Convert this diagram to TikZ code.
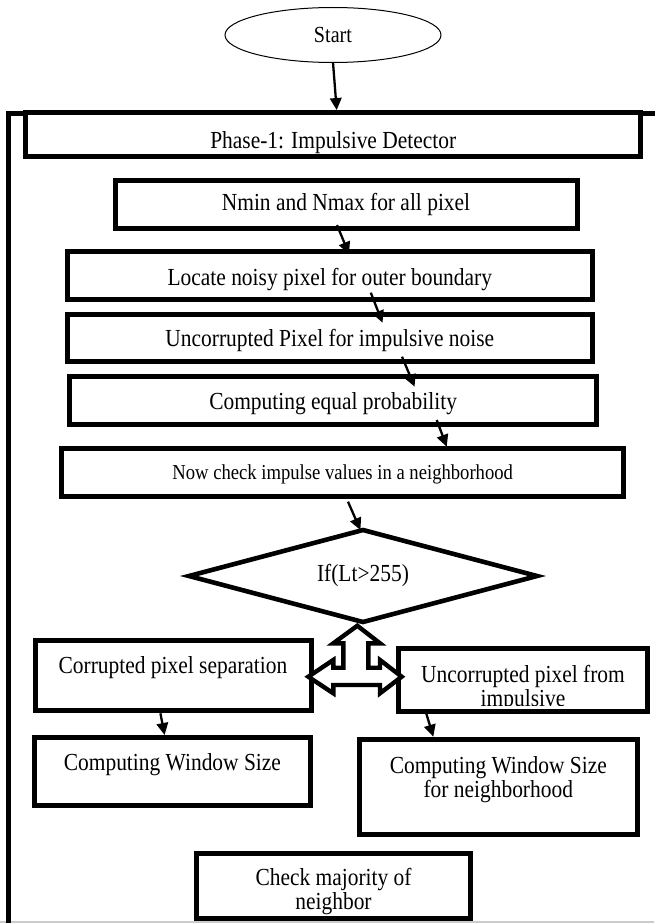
\documentclass[tikz,border=0pt]{standalone}
\usepackage{fontspec}
\setmainfont{Liberation Serif}[FakeStretch=0.875]
\usetikzlibrary{arrows.meta,shapes.geometric}
\begin{document}
\begin{tikzpicture}[x=1pt,y=-1pt,
  every node/.style={outer sep=0pt, inner sep=0pt},
  mainfont/.style={font=\fontsize{24.5}{24.5}\selectfont},
  box/.style={draw, line width=5pt, fill=white, rectangle, mainfont},
  startell/.style={draw, ellipse, line width=1pt, fill=white, font=\fontsize{23}{24}\selectfont},
  decision/.style={draw, diamond, aspect=3.78, line width=4.6pt, fill=white, mainfont},
  conn/.style={line width=2.3pt, -{Triangle[length=12pt,width=11.5pt]}},
  frameline/.style={line width=4.8pt},
  blockarrow/.style={draw, fill=white, line width=4.4pt, line join=miter},
  txt/.style={mainfont}
]
\useasboundingbox (0,0) rectangle (654,923);
\fill[white] (0,0) rectangle (654,923);

% bottom edge line and outer frame
\draw[line width=2.5pt, black!20] (0,921.8) -- (654,921.8);
\draw[frameline] (660,113.4) -- (8.3,113.4) -- (8.3,930);

% nodes
\node[startell, minimum width=216pt, minimum height=55pt, text height=23pt, text depth=7pt] (st) at (333,35) {Start};

\node[box, minimum width=614.7pt, minimum height=44.3pt, text height=29pt, text depth=1pt] (phase) at (333.2,134.2) {Phase-1: Impulsive Detector};

\node[box, minimum width=462pt, minimum height=48.3pt, text height=21pt, text depth=9pt] (n1) at (346,204.2) {Nmin and Nmax for all pixel};

\node[box, minimum width=525pt, minimum height=48pt, text height=24.3pt, text depth=5.7pt] (n2) at (329.8,275.7) {Locate noisy pixel for outer boundary};

\node[box, minimum width=525pt, minimum height=47.6pt, text height=23.7pt, text depth=6.3pt] (n3) at (329.8,338) {Uncorrupted Pixel for impulsive noise};

\node[box, minimum width=526.7pt, minimum height=47.5pt, text height=23.6pt, text depth=6.4pt] (n4) at (333.1,400.4) {Computing equal probability};

\node[box, minimum width=562.5pt, minimum height=48pt, text height=21.8pt, text depth=8.2pt, font=\fontsize{21.3}{24}\selectfont] (n5) at (342.7,472.5) {Now check impulse values in a neighborhood};

\node[decision, minimum width=348pt, minimum height=92pt, text height=20.7pt, text depth=9.3pt] (dia) at (363,576) {If(Lt>255)};

\node[box, minimum width=276pt, minimum height=70.8pt, text height=12.6pt, text depth=17.4pt] (n6) at (173,675.4) {Corrupted pixel separation};

\node[box, minimum width=249pt, minimum height=63pt] (n7) at (523,680.2) {};
\begin{scope}
  \clip (398.3,648.8) rectangle (647.5,705.2);
  \node[txt, anchor=base] (t7) at ([yshift=-1.8pt]n7.center)
    {\begin{tabular}[t]{@{}c@{}}Uncorrupted pixel from\\impulsive\end{tabular}};
\end{scope}

\node[box, minimum width=276pt, minimum height=68pt, text height=13.8pt, text depth=16.2pt] (n8) at (172.4,771.2) {Computing Window Size};

\node[box, minimum width=278pt, minimum height=95pt, text height=1.3pt, text depth=28.7pt] (n9) at (498.3,786.7)
  {\begin{tabular}[t]{@{}c@{}}Computing Window Size\\for neighborhood\end{tabular}};

\node[box, minimum width=273.3pt, minimum height=65.4pt, text height=14pt, text depth=16pt] (n10) at (333.5,886)
  {\begin{tabular}[t]{@{}c@{}}Check majority of\\neighbor\end{tabular}};

% three-way block arrow between decision and branches
\path[blockarrow]
  (357.3,625.7) -- (380,643.3) -- (368.3,643.3) -- (368.3,667.7) -- (380,667.7) -- (380,660)
  -- (401.7,676.7) -- (380,693.3) -- (380,685) -- (333.3,685) -- (333.3,693.3)
  -- (308.3,676.7) -- (333.3,660) -- (333.3,667.7) -- (343.3,667.7) -- (343.3,643.3)
  -- (333.3,643.3) -- cycle;

% connectors
\draw[conn] (st.south) -- ([xshift=3.5pt,yshift=2pt]phase.north);
\draw[conn] ([xshift=-9pt,yshift=3.3pt]n1.south) -- ([xshift=19.2pt,yshift=-2.3pt]n2.north);
\draw[conn] ([xshift=41pt,yshift=7pt]n2.south) -- ([xshift=52.7pt,yshift=-8.5pt]n3.north);
\draw[conn] ([xshift=72.2pt,yshift=5.1pt]n3.south) -- ([xshift=81.5pt,yshift=-10pt]n4.north);
\draw[conn] ([xshift=103.6pt,yshift=4.2pt]n4.south) -- ([xshift=104pt,yshift=1.8pt]n5.north);
\draw[conn] ([xshift=5.3pt,yshift=-5.2pt]n5.south) -- ([xshift=-2.6pt]dia.north);
\draw[conn] ([xshift=-12.6pt,yshift=-2.5pt]n6.south) -- ([xshift=-7.8pt,yshift=2.2pt]n8.north);
\draw[conn] ([xshift=-98pt,yshift=2.4pt]n7.south) -- ([xshift=-65pt,yshift=2.5pt]n9.north);
\end{tikzpicture}
\end{document}
